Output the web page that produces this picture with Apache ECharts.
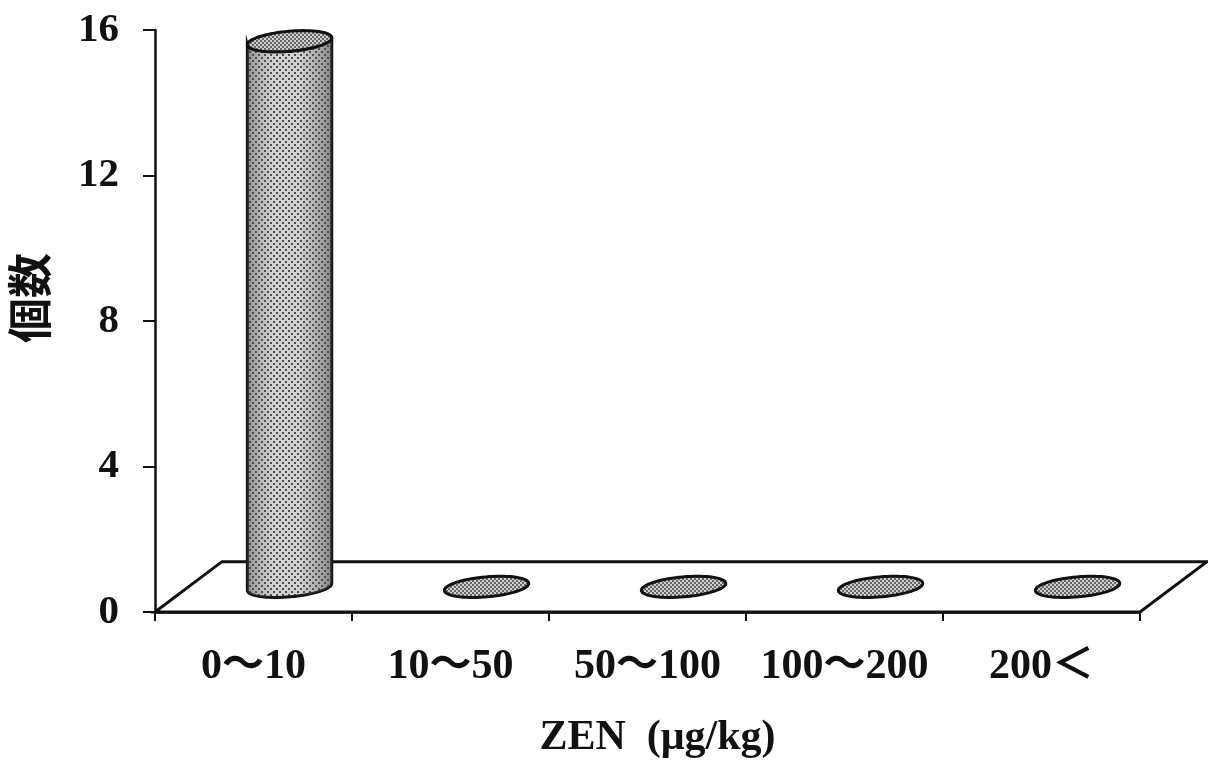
<!DOCTYPE html>
<html><head><meta charset="utf-8">
<style>html,body{margin:0;padding:0;background:#fff}#c{width:1208px;height:765px}</style>
<script src="https://cdn.jsdelivr.net/npm/echarts@6/dist/echarts.min.js"></script>
</head><body><div id="c"></div>
<script>
const categories = ['0～10', '10～50', '50～100', '100～200', '200＜'];
const counts = [15, 0, 0, 0, 0];
const yTicks = [0, 4, 8, 12, 16];
const xTitle = 'ZEN  (μg/kg)';
const yTitle = '個数';

const FONT = "'Liberation Serif','Noto Sans CJK JP',serif";
const INK = '#111';
const HEAVY = { fontWeight: 'bold' };

function stipple(bg, dot, step) {
  const t = document.createElement('canvas');
  t.width = t.height = step * 2;
  const g = t.getContext('2d');
  g.fillStyle = bg; g.fillRect(0, 0, t.width, t.height);
  g.fillStyle = dot;
  g.fillRect(0, 0, 2, 2);
  g.fillRect(step, step, 2, 2);
  return { image: t, repeat: 'repeat' };
}
const bodyFill = stipple('#d6d6d6', '#4a4a4a', 3);
const capFill = stipple('#d0d0d0', '#666', 2);

const TILT = 5 * Math.PI / 180;
function ellipsePt(cx, cy, rx, ry, a) {
  const x = rx * Math.cos(a), y = ry * Math.sin(a);
  return [cx + x * Math.cos(TILT) + y * Math.sin(TILT), cy - x * Math.sin(TILT) + y * Math.cos(TILT)];
}
function ellipse(cx, cy, rx, ry) {
  const p = [];
  for (let i = 0; i < 72; i++) p.push(ellipsePt(cx, cy, rx, ry, i / 72 * Math.PI * 2));
  return p;
}
function bodyOutline(cx, topY, baseY, rx, ry) {
  const p = [];
  for (let i = 36; i >= 0; i--) p.push(ellipsePt(cx, topY, rx, ry, i / 36 * Math.PI));
  for (let i = 0; i <= 36; i++) p.push(ellipsePt(cx, baseY, rx, ry, i / 36 * Math.PI));
  return p;
}

function renderFloor(params, api) {
  const cs = params.coordSys;
  const dx = cs.width * 0.068, dy = cs.height * 0.0865;
  const x0 = cs.x, x1 = cs.x + cs.width, y = cs.y + cs.height;
  return {
    type: 'polygon',
    shape: { points: [[x0, y], [x0 + dx, y - dy], [x1 + dx, y - dy], [x1, y]] },
    style: { fill: '#fff', stroke: INK, lineWidth: 3 }
  };
}
function renderBar(params, api) {
  const cs = params.coordSys;
  const i = api.value(0), v = api.value(1);
  const band = api.size([1, 0])[0];
  const rx = band * 0.215, ry = 10;
  const cx = api.coord([i, 0])[0] + band * 0.183;
  const lift = cs.height * 0.0432;
  const baseY = api.coord([i, 0])[1] - lift;
  const topY = api.coord([i, v])[1] - lift;
  const children = [];
  if (v > 0) {
    const pts = bodyOutline(cx, topY, baseY, rx, ry);
    children.push({ type: 'polygon', shape: { points: pts },
      style: { fill: bodyFill, stroke: INK, lineWidth: 3 } });
    children.push({ type: 'polygon', shape: { points: pts },
      style: { fill: { type: 'linear', x: 0, y: 0, x2: 1, y2: 0, colorStops: [
        { offset: 0, color: 'rgba(70,70,70,0.5)' }, { offset: 0.3, color: 'rgba(120,120,120,0.05)' },
        { offset: 0.6, color: 'rgba(120,120,120,0.05)' }, { offset: 1, color: 'rgba(70,70,70,0.55)' }] } } });
  }
  children.push({ type: 'polygon', shape: { points: ellipse(cx, topY, rx, ry) },
    style: { fill: capFill, stroke: INK, lineWidth: 3 } });
  return { type: 'group', children };
}

const chart = echarts.init(document.getElementById('c'));
chart.setOption({
  animation: false,
  backgroundColor: '#fff',
  grid: { left: 155, right: 68, top: 30, bottom: 153, outerBoundsMode: 'none' },
  xAxis: {
    type: 'category', data: categories,
    name: xTitle, nameLocation: 'middle', nameGap: 105,
    nameTextStyle: { fontFamily: FONT, fontSize: 42, color: INK, padding: [0, 0, 0, 20], ...HEAVY },
    axisLine: { lineStyle: { color: INK, width: 2.5 } },
    axisTick: { show: true, alignWithLabel: false, length: 9, lineStyle: { color: INK, width: 2 } },
    axisLabel: { fontFamily: FONT, fontSize: 42, color: INK, margin: 34, interval: 0, ...HEAVY }
  },
  yAxis: {
    type: 'value', min: yTicks[0], max: yTicks[yTicks.length - 1], interval: yTicks[1] - yTicks[0],
    name: yTitle, nameLocation: 'middle', nameGap: 103, nameRotate: 90,
    nameTextStyle: { fontFamily: "'Noto Sans CJK JP',sans-serif", fontWeight: 'bold', fontSize: 45, color: INK,
      padding: [0, 0, 0, 46] },
    splitLine: { show: false },
    axisLine: { show: true, lineStyle: { color: INK, width: 2.5 } },
    axisTick: { show: true, length: 12, lineStyle: { color: INK, width: 2 } },
    axisLabel: { fontFamily: FONT, fontSize: 41, color: INK, margin: 36, ...HEAVY }
  },
  series: [
    { type: 'custom', name: 'floor', renderItem: renderFloor, data: [0], z: 1, silent: true, clip: false,
      encode: { x: 0 } },
    { type: 'custom', name: '個数', renderItem: renderBar, z: 2, clip: false,
      data: counts.map((v, i) => [i, v]), encode: { x: 0, y: 1 } }
  ]
});
</script></body></html>
